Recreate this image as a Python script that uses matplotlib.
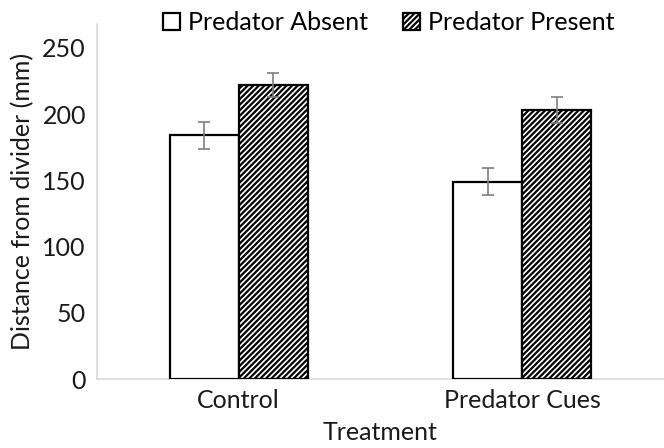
import numpy as np
import matplotlib.pyplot as plt
from matplotlib.patches import Patch

plt.rcParams['font.family'] = ['Lato', 'DejaVu Sans']
plt.rcParams['hatch.linewidth'] = 1.6

treatments = ["Control", "Predator Cues"]
absent = [184, 149]
present = [222, 203]
absent_err = [10, 10]
present_err = [9, 10]
yticks = [0, 50, 100, 150, 200, 250]

fig = plt.figure(figsize=(6.64, 4.48), dpi=100)
ax = fig.add_axes([97 / 664, 69 / 448, 567 / 664, 355 / 448])

x = np.arange(len(treatments))
w = 0.243
ax.bar(x - w / 2, absent, w, color="white", edgecolor="black", linewidth=1.6,
       label="Predator Absent", zorder=3)
ax.bar(x + w / 2, present, w, color="white", edgecolor="black", linewidth=1.6,
       hatch="//////", label="Predator Present", zorder=3)
ax.errorbar(x - w / 2, absent, yerr=absent_err, fmt="none", ecolor="#7f7f7f",
            elinewidth=1.2, capsize=4, capthick=1.2, zorder=4)
ax.errorbar(x + w / 2, present, yerr=present_err, fmt="none", ecolor="#7f7f7f",
            elinewidth=1.2, capsize=4, capthick=1.2, zorder=4)

ax.set_xlim(-0.5, 1.5)
ax.set_ylim(0, 268)
ax.set_yticks(yticks)
ax.set_xticks(x)
ax.set_xticklabels(treatments)
ax.tick_params(length=0, labelsize=18, colors="#1a1a1a")
ax.tick_params(axis="x", pad=7)
ax.tick_params(axis="y", pad=8)
for s in ["top", "right"]:
    ax.spines[s].set_visible(False)
for s in ["left", "bottom"]:
    ax.spines[s].set_color("#d9d9d9")
    ax.spines[s].set_linewidth(1.2)

ax.set_ylabel("Distance from divider (mm)", fontsize=18, color="#1a1a1a", labelpad=6)
ax.set_xlabel("Treatment", fontsize=18, color="#1a1a1a", labelpad=7)

handles = [Patch(facecolor="white", edgecolor="black", linewidth=1.6),
           Patch(facecolor="white", edgecolor="black", linewidth=1.6, hatch="//////")]
fig.legend(handles, ["Predator Absent", "Predator Present"], loc="upper center",
           bbox_to_anchor=(0.585, 1.025), ncol=2, frameon=False, fontsize=18,
           handlelength=0.7, handleheight=0.7, handletextpad=0.3, columnspacing=1.4)

fig.savefig("out.png", dpi=100)
